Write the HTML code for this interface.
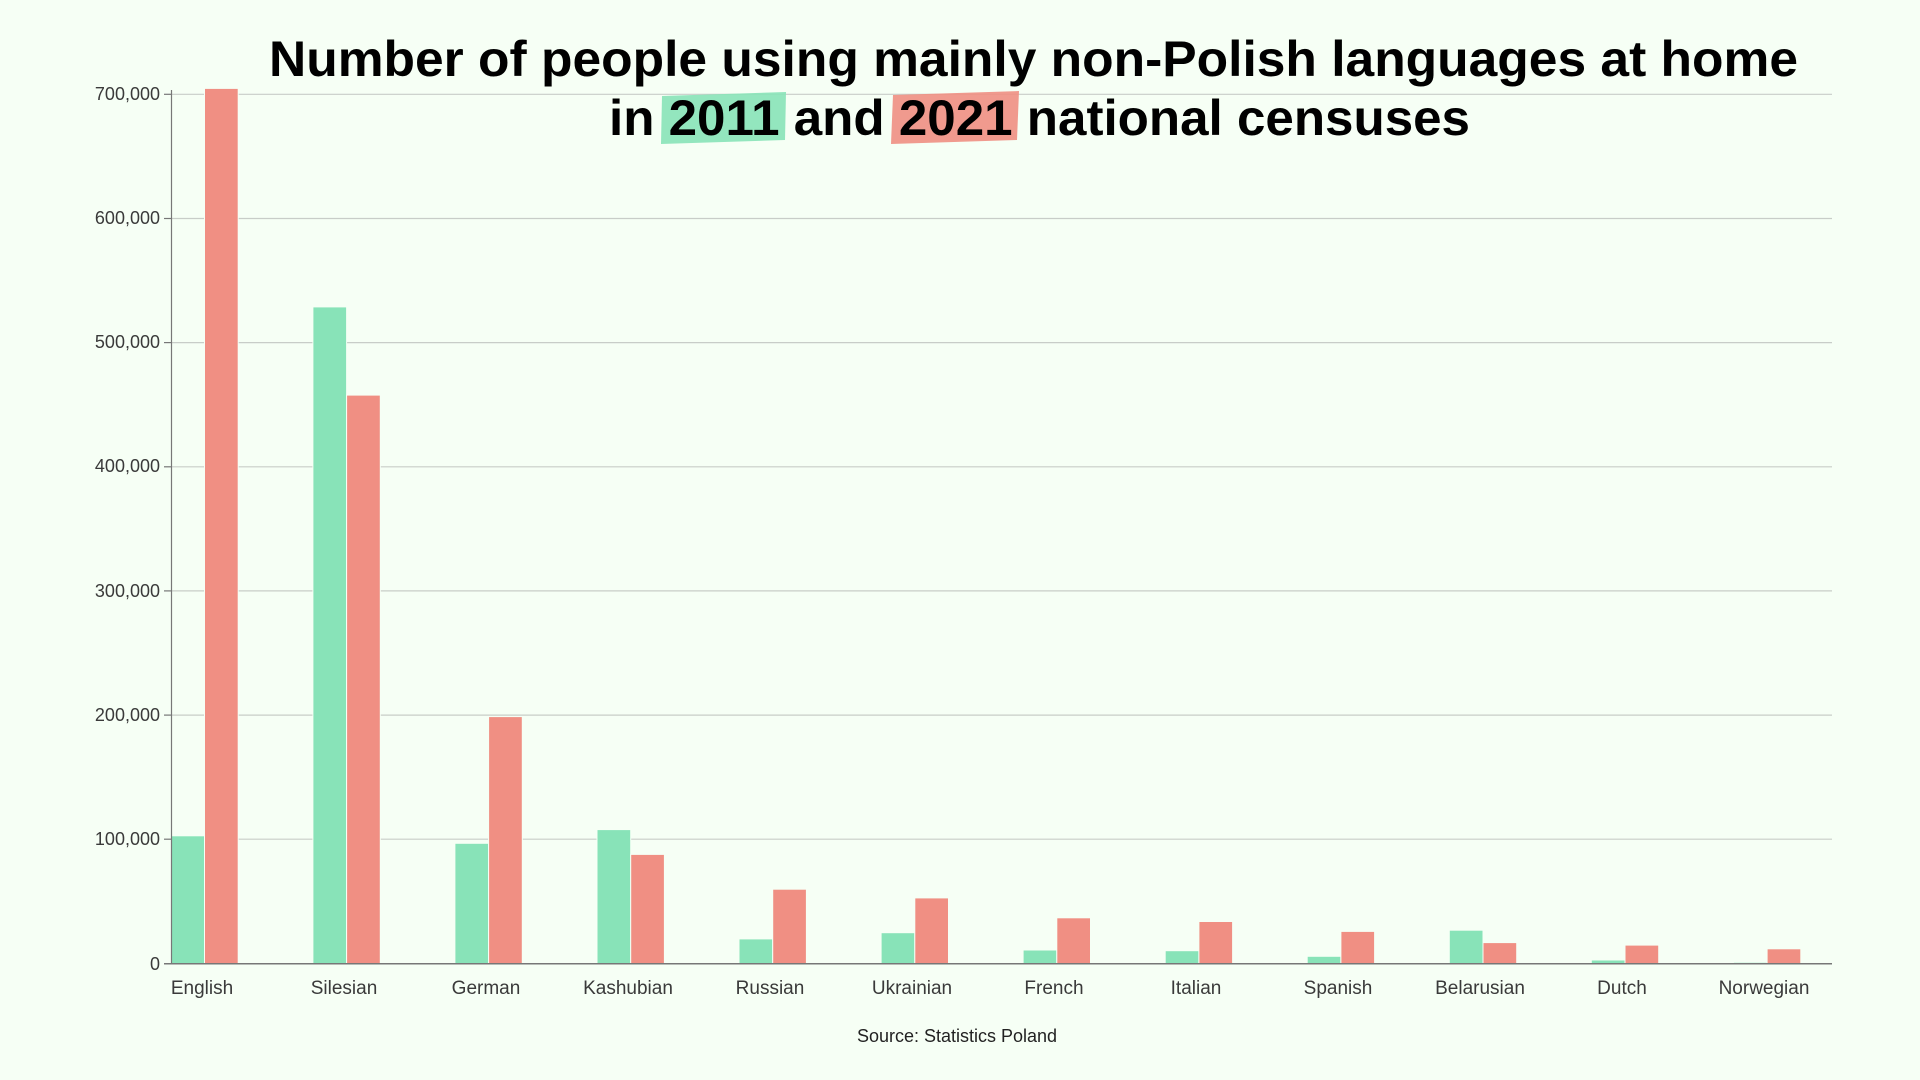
<!DOCTYPE html>
<html><head><meta charset="utf-8"><style>
html,body{margin:0;padding:0;background:#f6fff5;}
svg{display:block}
text{font-family:"Liberation Sans",sans-serif}
</style></head><body>
<svg width="1920" height="1080" viewBox="0 0 1920 1080" xmlns="http://www.w3.org/2000/svg">
<rect width="1920" height="1080" fill="#f6fff5"/>
<g stroke="#c8cdc8" stroke-width="1.2">
<line x1="171" x2="1832" y1="94.3" y2="94.3"/>
<line x1="171" x2="1832" y1="218.5" y2="218.5"/>
<line x1="171" x2="1832" y1="342.6" y2="342.6"/>
<line x1="171" x2="1832" y1="466.8" y2="466.8"/>
<line x1="171" x2="1832" y1="590.9" y2="590.9"/>
<line x1="171" x2="1832" y1="715.1" y2="715.1"/>
<line x1="171" x2="1832" y1="839.2" y2="839.2"/>
</g>
<g fill="#3a3a3a" font-size="18" text-anchor="end">
<text x="160" y="100">700,000</text>
<text x="160" y="224">600,000</text>
<text x="160" y="348">500,000</text>
<text x="160" y="472">400,000</text>
<text x="160" y="597">300,000</text>
<text x="160" y="721">200,000</text>
<text x="160" y="845">100,000</text>
<text x="160" y="970">0</text>
</g>
<g stroke="#f6fff5" stroke-width="1">
<g fill="#88e3b8">
<rect x="170.8" y="835.8" width="33.7" height="127.9"/>
<rect x="312.9" y="306.9" width="33.7" height="656.8"/>
<rect x="454.9" y="843.3" width="33.7" height="120.4"/>
<rect x="597" y="829.6" width="33.7" height="134.1"/>
<rect x="739" y="938.9" width="33.7" height="24.8"/>
<rect x="881.1" y="932.7" width="33.7" height="31"/>
<rect x="1023.1" y="950" width="33.7" height="13.7"/>
<rect x="1165.2" y="950.7" width="33.7" height="13"/>
<rect x="1307.2" y="956.3" width="33.7" height="7.4"/>
<rect x="1449.3" y="930.2" width="33.7" height="33.5"/>
<rect x="1591.3" y="960" width="33.7" height="3.7"/>
<rect x="1733.4" y="962.3" width="33.7" height="1.4"/>
</g>
<g fill="#f08f83">
<rect x="204.5" y="88.4" width="33.7" height="875.3"/>
<rect x="346.6" y="395.1" width="33.7" height="568.6"/>
<rect x="488.6" y="716.6" width="33.7" height="247.1"/>
<rect x="630.7" y="854.4" width="33.7" height="109.3"/>
<rect x="772.7" y="889.2" width="33.7" height="74.5"/>
<rect x="914.8" y="897.9" width="33.7" height="65.8"/>
<rect x="1056.8" y="917.8" width="33.7" height="45.9"/>
<rect x="1198.9" y="921.5" width="33.7" height="42.2"/>
<rect x="1340.9" y="931.4" width="33.7" height="32.3"/>
<rect x="1483" y="942.6" width="33.7" height="21.1"/>
<rect x="1625" y="945.1" width="33.7" height="18.6"/>
<rect x="1767.1" y="948.8" width="33.7" height="14.9"/>
</g>
</g>
<line x1="171.5" x2="171.5" y1="90" y2="964" stroke="#777" stroke-width="1.2"/>
<line x1="164" x2="1832" y1="963.7" y2="963.7" stroke="#777" stroke-width="1.5"/>
<g stroke="#777" stroke-width="1.2">
<line x1="164" x2="171" y1="94.3" y2="94.3"/><line x1="164" x2="171" y1="218.5" y2="218.5"/>
<line x1="164" x2="171" y1="342.6" y2="342.6"/><line x1="164" x2="171" y1="466.8" y2="466.8"/>
<line x1="164" x2="171" y1="590.9" y2="590.9"/><line x1="164" x2="171" y1="715.1" y2="715.1"/>
<line x1="164" x2="171" y1="839.2" y2="839.2"/>
</g>
<g fill="#3a3a3a" font-size="19" text-anchor="middle">
<text x="202" y="994">English</text>
<text x="344" y="994">Silesian</text>
<text x="486" y="994">German</text>
<text x="628" y="994">Kashubian</text>
<text x="770" y="994">Russian</text>
<text x="912" y="994">Ukrainian</text>
<text x="1054" y="994">French</text>
<text x="1196" y="994">Italian</text>
<text x="1338" y="994">Spanish</text>
<text x="1480" y="994">Belarusian</text>
<text x="1622" y="994">Dutch</text>
<text x="1764" y="994">Norwegian</text>
</g>
<text x="957" y="1042" font-size="18" fill="#222" text-anchor="middle">Source: Statistics Poland</text>
<polygon points="662,96 786,92 785,140 661,144" fill="#88e3b8" opacity="0.9"/>
<polygon points="893,95 1019,91 1017,140 891,144" fill="#f08f83" opacity="0.9"/>
<g font-size="50" font-weight="bold" fill="#000">
<text x="269" y="76" textLength="1529" lengthAdjust="spacingAndGlyphs">Number of people using mainly non-Polish languages at home</text>
<text x="609" y="135" textLength="861" lengthAdjust="spacingAndGlyphs">in <tspan>2011</tspan> and <tspan>2021</tspan> national censuses</text>
</g>
</svg>
</body></html>
